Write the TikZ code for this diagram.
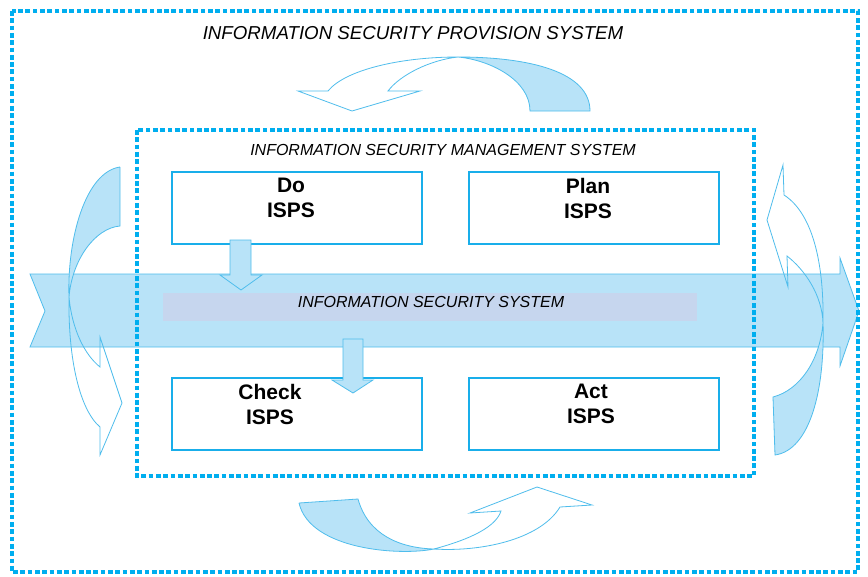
\documentclass[tikz,border=0pt]{standalone}
\usepackage{fontspec}
\setmainfont{Liberation Sans}
\definecolor{dotblue}{HTML}{00AEEF}
\definecolor{boxblue}{HTML}{19AEEA}
\definecolor{lblue}{HTML}{B8E3F8}
\definecolor{lline}{HTML}{4FBDEC}
\definecolor{graybar}{HTML}{C6D6EE}
\begin{document}
\begin{tikzpicture}[x=1pt,y=-1pt,
  dotframe/.style={draw=dotblue,line width=4.5pt,dash pattern=on 4.7pt off 2.6pt},
  ribbon/.style={fill=lblue,draw=lline,line width=0.8pt,line join=miter},
  outline/.style={draw=lline,line width=0.8pt,line join=miter},
  box/.style={draw=boxblue,line width=1.8pt,fill=white,minimum width=250pt,minimum height=72pt,inner sep=0pt},
  boxtext/.style={font=\bfseries\fontsize{21}{25}\selectfont,align=center,inner sep=0pt},
  title/.style={font=\itshape\fontsize{18.7}{22}\selectfont,inner sep=0pt},
  subtitle/.style={font=\itshape\fontsize{16}{19}\selectfont,inner sep=0pt}]
\useasboundingbox (0,0) rectangle (868,576);
\fill[white] (0,0) rectangle (868,576);
% big band arrow
\draw[ribbon] (30,274) -- (840,274) -- (840,258) -- (859,311) -- (840,366) -- (840,347) -- (30,347) -- (45,311) -- cycle;
\fill[graybar] (163,293) rectangle (697,321);
% top curved arrow
\draw[ribbon] (590,111) .. controls (590,72) and (530,57) .. (458,57)
  .. controls (490,60) and (530,80) .. (530,111) -- cycle;
\draw[outline] (458,57) .. controls (400,57) and (345,70) .. (328,91) -- (298,91) -- (352,111) -- (420,91) -- (388,91)
  .. controls (400,75) and (430,60) .. (458,57);
% bottom curved arrow
\draw[ribbon] (299,503) -- (358,499) .. controls (368,535) and (400,548) .. (434,549)
  .. controls (400,556) and (310,550) .. (299,503);
\draw[outline] (434,549) .. controls (480,552) and (540,540) .. (560,507) -- (592,505) -- (537,487) -- (470,513) -- (501,511)
  .. controls (495,530) and (460,542) .. (434,549);
% left curved arrow
\draw[ribbon] (120,167) -- (120,226) .. controls (95,228) and (72,260) .. (69,297)
  .. controls (67,240) and (85,172) .. (120,167);
\draw[outline] (69,297) .. controls (72,330) and (85,355) .. (100,367) -- (100,337) -- (122,403) -- (100,455) -- (100,427)
  .. controls (80,410) and (68,360) .. (69,297);
% right curved arrow
\draw[outline] (823,323) .. controls (824,270) and (815,215) .. (784,195) -- (783,165) -- (767,220) -- (788,287) -- (787,256)
  .. controls (805,270) and (822,295) .. (823,323);
\draw[ribbon] (823,323) .. controls (825,390) and (810,450) .. (775,455) -- (773,397)
  .. controls (800,390) and (820,360) .. (823,323);
% dotted frames
\draw[dotframe] (12,11) rectangle (858,572);
\draw[dotframe] (137,130) rectangle (754,476);
% boxes
\node[box] (do) at (297,208) {};
\node[box] (plan) at (594,208) {};
\node[box] (check) at (297,414) {};
\node[box] (act) at (594,414) {};
\node[boxtext] (dot) at (291,198) {Do\\ISPS};
\node[boxtext] (plant) at (588,198) {Plan\\ISPS};
\node[boxtext] (checkt) at (270,404) {Check\\ISPS};
\node[boxtext] (actt) at (591,404) {Act\\ISPS};
% small block arrows
\draw[ribbon] (230,240) -- (251,240) -- (251,275) -- (262,275) -- (241,290) -- (220,275) -- (230,275) -- cycle;
\draw[ribbon] (343,339) -- (363,339) -- (363,380) -- (373,380) -- (353,393) -- (332,380) -- (343,380) -- cycle;
% texts
\node[title] (t1) at (413,33) {INFORMATION SECURITY PROVISION SYSTEM};
\node[subtitle] (t2) at (443,150) {INFORMATION SECURITY MANAGEMENT SYSTEM};
\node[subtitle] (t3) at (431,302) {INFORMATION SECURITY SYSTEM};
\end{tikzpicture}
\end{document}
